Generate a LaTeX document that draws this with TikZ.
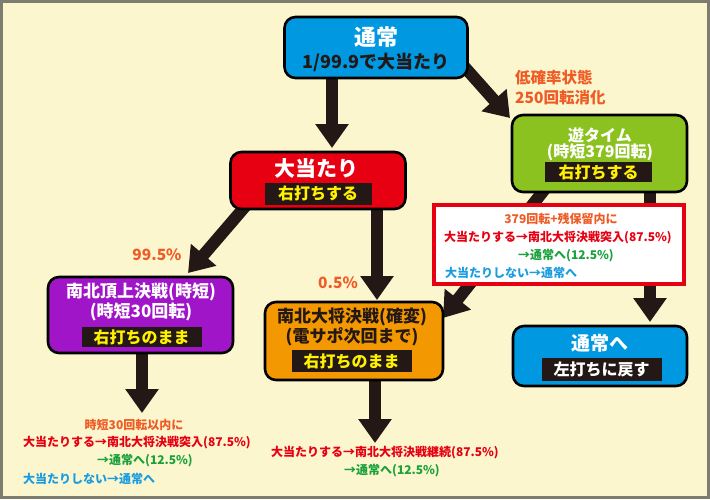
\documentclass[tikz,border=0pt]{standalone}
\usepackage{fontspec}
\setmainfont{Noto Sans CJK JP}
\usetikzlibrary{arrows.meta}
\definecolor{bgc}{HTML}{FBF6CE}
\definecolor{frm}{HTML}{7E7C6E}
\definecolor{dk}{HTML}{231815}
\definecolor{yel}{HTML}{FFF100}
\definecolor{cblue}{HTML}{0098E0}
\definecolor{cred}{HTML}{E60012}
\definecolor{cgreen}{HTML}{8CC21F}
\definecolor{cpurple}{HTML}{A015C8}
\definecolor{corange}{HTML}{F39800}
\definecolor{torange}{HTML}{EF5B25}
\definecolor{tred}{HTML}{E60012}
\definecolor{tgreen}{HTML}{1BA13B}
\definecolor{tblue}{HTML}{1A9CE0}
\pgfdeclarelayer{bg}
\pgfdeclarelayer{arr}
\pgfsetlayers{bg,arr,main}
\tikzset{
  box/.style={draw=black, line width=2.6pt, rounded corners=11pt, inner sep=0pt},
  tagbox/.style={fill=dk, text=yel, inner xsep=12pt, inner ysep=0pt, minimum height=22pt, font=\fontsize{16}{16}\selectfont\bfseries},
  title/.style={inner sep=0pt, font=\fontsize{#1}{#1}\selectfont\bfseries},
  bigarrow/.style={draw=dk, line width=12pt, -{Triangle[width=32pt,length=24pt]}},
  small/.style={inner sep=0pt, font=\fontsize{12}{12}\selectfont\bfseries},
  lbl/.style={inner sep=0pt, text=torange, font=\fontsize{15.5}{15.5}\selectfont\bfseries},
}
\begin{document}
\begin{tikzpicture}[x=1pt,y=-1pt]
\useasboundingbox (0,0) rectangle (710,499);
\begin{pgfonlayer}{bg}
\fill[bgc] (0,0) rectangle (710,499);
\draw[frm, line width=3pt] (1.5,1.5) rectangle (708.5,497.5);
\end{pgfonlayer}

% boxes
\node[box, fill=cblue, minimum width=183pt, minimum height=61pt] (tsujo) at (376,47.5) {};
\node[title=22, text=white] (tsujoT) at (376,37) {通常};
\node[title=18, text=dk] (tsujoS) at (376,62) {1/99.9で大当たり};

\node[box, fill=cred, minimum width=175pt, minimum height=57pt] (atari) at (318,180.5) {};
\node[title=21, text=white] (atariT) at (316,169) {大当たり};
\node[tagbox, minimum width=107pt] (atariK) at (318,193.5) {右打ちする};

\node[box, fill=cgreen, minimum width=175pt, minimum height=77pt] (yu) at (599.5,153.5) {};
\node[title=16, text=white] (yuT) at (600,135) {遊タイム};
\node[title=16, text=white] (yuS) at (600,152.5) {(時短379回転)};
\node[tagbox, minimum width=107pt, minimum height=20pt] (yuK) at (598.5,172) {右打ちする};

\node[box, fill=cpurple, minimum width=185pt, minimum height=76pt] (chojo) at (140.5,315) {};
\node[title=17, text=white] (chojoT) at (141,292) {南北頂上決戦(時短)};
\node[title=17, text=white] (chojoS) at (141,312) {(時短30回転)};
\node[tagbox, minimum width=105pt, minimum height=20pt] (chojoK) at (141.5,337) {右打ちのまま};

\node[box, fill=corange, minimum width=178pt, minimum height=78pt] (taisho) at (354,341) {};
\node[title=17, text=dk] (taishoT) at (352,317) {南北大将決戦(確変)};
\node[title=17, text=dk] (taishoS) at (352,337) {(電サポ次回まで)};
\node[tagbox, minimum width=103pt, minimum height=22pt] (taishoK) at (351.5,361) {右打ちのまま};

\node[box, fill=cblue, minimum width=174pt, minimum height=60pt] (modoru) at (600,356) {};
\node[title=19, text=white] (modoruT) at (600,343) {通常へ};
\node[tagbox, text=white, minimum width=107pt, minimum height=23pt] (modoruK) at (601.5,369.5) {左打ちに戻す};

% red note box
\node[draw=cred, line width=4.5pt, fill=white, minimum width=250pt, minimum height=79pt, inner sep=0pt] (note) at (559,244.5) {};
\node[small, text=torange] (n1) at (561,219) {379回転+残保留内に};
\node[small, text=tred] (n2) at (558,238) {大当たりする→南北大将決戦突入(87.5\%)};
\node[small, text=tgreen] (n3) at (566,256) {→通常へ(12.5\%)};
\node[small, text=tblue, anchor=west] (n4) at (445,273) {大当たりしない→通常へ};

% labels
\node[lbl, anchor=west] (l1) at (515,78) {低確率状態};
\node[lbl, anchor=west] (l2) at (515,98) {250回転消化};
\node[lbl] (p1) at (157,255) {99.5\%};
\node[lbl] (p2) at (338,283) {0.5\%};

% bottom texts
\node[small, text=torange] (b1) at (134,425) {時短30回転以内に};
\node[small, text=tred, anchor=west] (b2) at (23,443) {大当たりする→南北大将決戦突入(87.5\%)};
\node[small, text=tgreen] (b3) at (145,461) {→通常へ(12.5\%)};
\node[small, text=tblue, anchor=west] (b4) at (23,479) {大当たりしない→通常へ};

\node[small, text=tred] (c1) at (385,453) {大当たりする→南北大将決戦継続(87.5\%)};
\node[small, text=tgreen] (c2) at (392,471) {→通常へ(12.5\%)};

\coordinate (tipY) at (510,118);
\coordinate (tipA) at (188,273);
\coordinate (tipB) at (443,318);
\coordinate (tipC) at (142,413);
\coordinate (tipD) at (375,443);

% arrows
\begin{pgfonlayer}{arr}
\draw[bigarrow] (tsujo.south -| 332,0) -- (332,148);
\draw[bigarrow] (445,45) -- (tipY);
\draw[bigarrow] (255,195) -- (tipA);
\draw[bigarrow] (atari.south -| 377,0) -- (377,300);
\draw[bigarrow] (560,170) -- (tipB);
\draw[bigarrow] (yu.south -| 650,0) -- (650,322);
\draw[bigarrow] (chojo.south -| tipC) -- (tipC);
\draw[bigarrow] (taisho.south -| tipD) -- (tipD);
\end{pgfonlayer}
\end{tikzpicture}
\end{document}
